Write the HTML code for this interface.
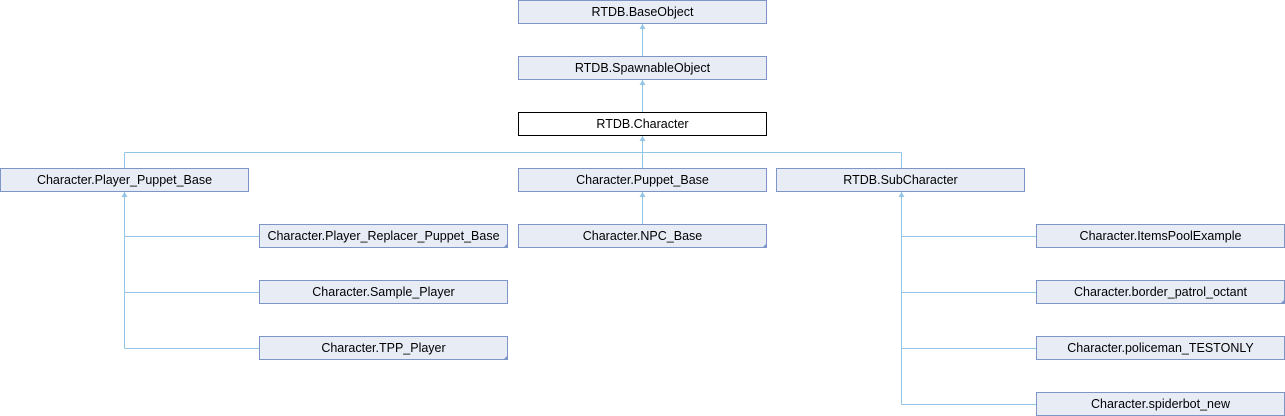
<!DOCTYPE html>
<html><head><meta charset="utf-8"><style>
html,body{margin:0;padding:0;background:#fff;width:1285px;height:416px;overflow:hidden}
text{font-family:"Liberation Sans",sans-serif;font-size:12.5px;fill:#000}
.b{fill:#e8ecf5;stroke:#7e95c8;stroke-width:1}
.l{stroke:#93c6e6;stroke-width:1;fill:none}
.a{fill:#93c6e6}
.c{fill:#7e95c8}
</style></head><body>
<svg width="1285" height="416" xmlns="http://www.w3.org/2000/svg">
<g class="l">
<path d="M642.5 24 V56 M642.5 80 V112 M642.5 136 V168 M124.5 152.5 H901.5 M124.5 152.5 V168 M901.5 152.5 V168"/>
<path d="M642.5 192 V224"/>
<path d="M124.5 192 V348.5 M124.5 236.5 H259 M124.5 292.5 H259 M124.5 348.5 H259"/>
<path d="M901.5 192 V404.5 M901.5 236.5 H1036 M901.5 292.5 H1036 M901.5 348.5 H1036 M901.5 404.5 H1036"/>
</g>
<g class="a">
<path d="M642.5 24 l-3 5 h6z"/><path d="M642.5 80 l-3 5 h6z"/><path d="M642.5 136 l-3 5 h6z"/>
<path d="M642.5 192 l-3 5 h6z"/><path d="M124.5 192 l-3 5 h6z"/><path d="M901.5 192 l-3 5 h6z"/>
</g>
<g>
<rect class="b" x="518.5" y="0.5" width="248" height="23"/><text x="642.5" y="16" text-anchor="middle">RTDB.BaseObject</text>
<rect class="b" x="518.5" y="56.5" width="248" height="23"/><text x="642.5" y="72" text-anchor="middle">RTDB.SpawnableObject</text>
<rect x="518.5" y="112.5" width="248" height="23" fill="#fff" stroke="#000"/><text x="642.5" y="128" text-anchor="middle">RTDB.Character</text>
<rect class="b" x="0.5" y="168.5" width="248" height="23"/><text x="124.5" y="184" text-anchor="middle">Character.Player_Puppet_Base</text>
<rect class="b" x="518.5" y="168.5" width="248" height="23"/><text x="642.5" y="184" text-anchor="middle">Character.Puppet_Base</text>
<rect class="b" x="776.5" y="168.5" width="248" height="23"/><text x="900.5" y="184" text-anchor="middle">RTDB.SubCharacter</text>
<rect class="b" x="259.5" y="224.5" width="248" height="23"/><text x="383.5" y="240" text-anchor="middle">Character.Player_Replacer_Puppet_Base</text>
<rect class="b" x="518.5" y="224.5" width="248" height="23"/><text x="642.5" y="240" text-anchor="middle">Character.NPC_Base</text>
<rect class="b" x="259.5" y="280.5" width="248" height="23"/><text x="383.5" y="296" text-anchor="middle">Character.Sample_Player</text>
<rect class="b" x="259.5" y="336.5" width="248" height="23"/><text x="383.5" y="352" text-anchor="middle">Character.TPP_Player</text>
<rect class="b" x="1036.5" y="224.5" width="248" height="23"/><text x="1160.5" y="240" text-anchor="middle">Character.ItemsPoolExample</text>
<rect class="b" x="1036.5" y="280.5" width="248" height="23"/><text x="1160.5" y="296" text-anchor="middle">Character.border_patrol_octant</text>
<rect class="b" x="1036.5" y="336.5" width="248" height="23"/><text x="1160.5" y="352" text-anchor="middle">Character.policeman_TESTONLY</text>
<rect class="b" x="1036.5" y="392.5" width="248" height="23"/><text x="1160.5" y="408" text-anchor="middle">Character.spiderbot_new</text>
</g>
<g class="c">
<path d="M508 243 v5 h-5z"/><path d="M767 243 v5 h-5z"/><path d="M508 355 v5 h-5z"/><path d="M1285 299 v5 h-5z"/>
</g>
</svg>
</body></html>
